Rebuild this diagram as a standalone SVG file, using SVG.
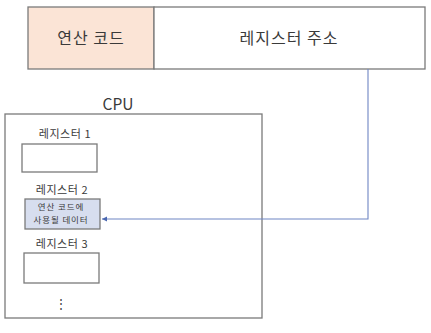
<svg xmlns="http://www.w3.org/2000/svg" width="431" height="333" viewBox="0 0 431 333">
<style>
.box{stroke:#7a7a7a;stroke-width:1.3;fill:#fff}
.t{font-family:"Noto Sans CJK KR","Noto Sans",sans-serif;fill:#3a3a3a;text-anchor:middle}
.big{font-size:16px;letter-spacing:1px}
.lbl{font-size:11px;letter-spacing:0.6px}
.in{font-size:8.5px;letter-spacing:0.9px}
.conn{stroke:#6f86c4;stroke-width:1.1;fill:none}
</style>
<defs>
<marker id="arr" markerWidth="6" markerHeight="6" refX="5" refY="3" orient="auto" markerUnits="userSpaceOnUse">
<path d="M0,0.5 L5,3 L0,5.5 Z" fill="#4a67b0"/>
</marker>
</defs>
<rect x="0" y="0" width="431" height="333" fill="#fff"/>
<g id="opcode">
<rect class="box" x="28" y="7" width="126" height="62" style="fill:#fbe4d6"/>
<text class="t big" x="91" y="44">연산 코드</text>
</g>
<g id="regaddr">
<rect class="box" x="154" y="7" width="271" height="62"/>
<text class="t big" x="289" y="44">레지스터 주소</text>
</g>
<g id="cpu">
<rect class="box" x="5" y="114" width="257" height="204"/>
<text class="t" x="118" y="110" font-size="15.5">CPU</text>
</g>
<g id="reg1">
<text class="t lbl" x="65" y="138">레지스터 1</text>
<rect class="box" x="22" y="144" width="75" height="28"/>
</g>
<g id="reg2">
<text class="t lbl" x="62" y="194">레지스터 2</text>
<rect class="box" x="25" y="199" width="75" height="30" style="fill:#d7deef"/>
<text class="t in" x="61" y="210">연산 코드에</text>
<text class="t in" x="61" y="222.5">사용될 데이터</text>
</g>
<g id="reg3">
<text class="t lbl" x="62" y="248">레지스터 3</text>
<rect class="box" x="24" y="253" width="75" height="30"/>
</g>
<g id="dots">
<text class="t" x="61" y="308" font-size="12">⋮</text>
</g>
<g id="connectors">
<path class="conn" d="M368,69 V219 H102" marker-end="url(#arr)"/>
</g>
</svg>
